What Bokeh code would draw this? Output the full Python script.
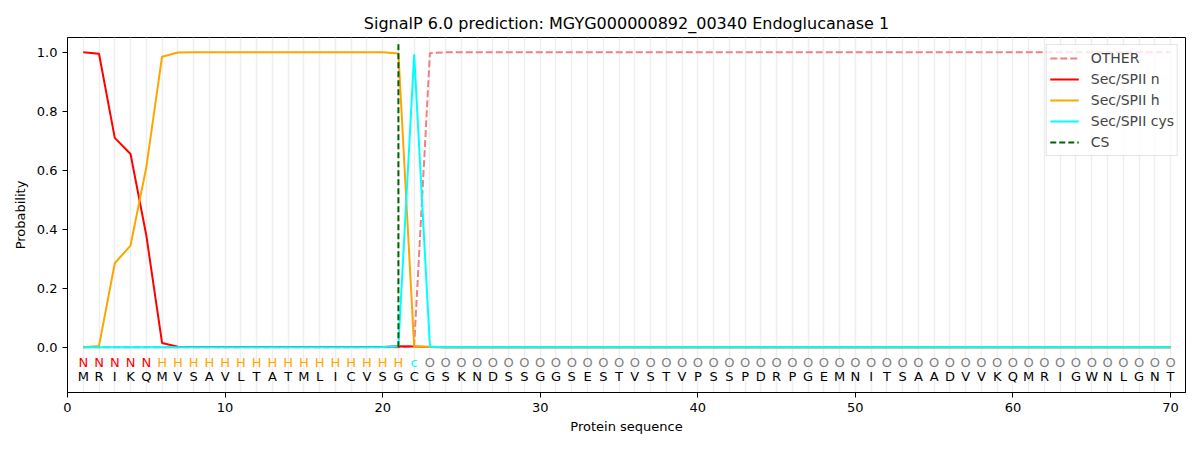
from bokeh.plotting import figure
from bokeh.models import ColumnDataSource, FixedTicker, Legend, LegendItem, Range1d, PrintfTickFormatter
from bokeh.embed import file_html
from bokeh.resources import INLINE
from bokeh.core.properties import value

positions = [1, 2, 3, 4, 5, 6, 7, 8, 9, 10, 11, 12, 13, 14, 15, 16, 17, 18, 19, 20,
             21, 22, 23, 24, 25, 26, 27, 28, 29, 30, 31, 32, 33, 34, 35, 36, 37, 38, 39, 40,
             41, 42, 43, 44, 45, 46, 47, 48, 49, 50, 51, 52, 53, 54, 55, 56, 57, 58, 59, 60,
             61, 62, 63, 64, 65, 66, 67, 68, 69, 70]

sequence = list("MRIKQMVSAVLTATMLICVSGCGSKNDSSGGSESTVSTVPSSPDRPGEMNITSAADVVKQMRIGWNLGNT")
region_labels = list("NNNNNHHHHHHHHHHHHHHHHcOOOOOOOOOOOOOOOOOOOOOOOOOOOOOOOOOOOOOOOOOOOOOOOO")

other = [0.0, 0.0, 0.0, 0.0, 0.0, 0.0, 0.0, 0.0, 0.0, 0.0,
         0.0, 0.0, 0.0, 0.0, 0.0, 0.0, 0.0, 0.0, 0.0, 0.0,
         0.0, 0.005, 0.997, 1.0, 1.0, 1.0, 1.0, 1.0, 1.0, 1.0,
         1.0, 1.0, 1.0, 1.0, 1.0, 1.0, 1.0, 1.0, 1.0, 1.0,
         1.0, 1.0, 1.0, 1.0, 1.0, 1.0, 1.0, 1.0, 1.0, 1.0,
         1.0, 1.0, 1.0, 1.0, 1.0, 1.0, 1.0, 1.0, 1.0, 1.0,
         1.0, 1.0, 1.0, 1.0, 1.0, 1.0, 1.0, 1.0, 1.0, 1.0]

sec_n = [1.0, 0.995, 0.71, 0.655, 0.38, 0.015, 0.002, 0.001, 0.001, 0.001,
         0.001, 0.001, 0.001, 0.001, 0.001, 0.001, 0.001, 0.001, 0.001, 0.001,
         0.004, 0.003, 0.001, 0.0, 0.0, 0.0, 0.0, 0.0, 0.0, 0.0,
         0.0, 0.0, 0.0, 0.0, 0.0, 0.0, 0.0, 0.0, 0.0, 0.0,
         0.0, 0.0, 0.0, 0.0, 0.0, 0.0, 0.0, 0.0, 0.0, 0.0,
         0.0, 0.0, 0.0, 0.0, 0.0, 0.0, 0.0, 0.0, 0.0, 0.0,
         0.0, 0.0, 0.0, 0.0, 0.0, 0.0, 0.0, 0.0, 0.0, 0.0]

sec_h = [0.0, 0.005, 0.285, 0.345, 0.61, 0.985, 0.999, 1.0, 1.0, 1.0,
         1.0, 1.0, 1.0, 1.0, 1.0, 1.0, 1.0, 1.0, 1.0, 1.0,
         0.996, 0.003, 0.001, 0.0, 0.0, 0.0, 0.0, 0.0, 0.0, 0.0,
         0.0, 0.0, 0.0, 0.0, 0.0, 0.0, 0.0, 0.0, 0.0, 0.0,
         0.0, 0.0, 0.0, 0.0, 0.0, 0.0, 0.0, 0.0, 0.0, 0.0,
         0.0, 0.0, 0.0, 0.0, 0.0, 0.0, 0.0, 0.0, 0.0, 0.0,
         0.0, 0.0, 0.0, 0.0, 0.0, 0.0, 0.0, 0.0, 0.0, 0.0]

sec_cys = [0.0, 0.0, 0.0, 0.0, 0.0, 0.0, 0.0, 0.0, 0.0, 0.0,
           0.0, 0.0, 0.0, 0.0, 0.0, 0.0, 0.0, 0.0, 0.0, 0.001,
           0.004, 0.993, 0.003, 0.0, 0.0, 0.0, 0.0, 0.0, 0.0, 0.0,
           0.0, 0.0, 0.0, 0.0, 0.0, 0.0, 0.0, 0.0, 0.0, 0.0,
           0.0, 0.0, 0.0, 0.0, 0.0, 0.0, 0.0, 0.0, 0.0, 0.0,
           0.0, 0.0, 0.0, 0.0, 0.0, 0.0, 0.0, 0.0, 0.0, 0.0,
           0.0, 0.0, 0.0, 0.0, 0.0, 0.0, 0.0, 0.0, 0.0, 0.0]

cs_position = 21
cs_top = 1.035

x_ticks = [0, 10, 20, 30, 40, 50, 60, 70]
y_ticks = [0.0, 0.2, 0.4, 0.6, 0.8, 1.0]

label_colors = {"N": "red", "H": "orange", "c": "cyan", "O": "gray"}

FONT = "DejaVu Sans"

p = figure(width=1192, height=442, output_backend="svg", toolbar_location=None,
           x_range=Range1d(0, 70.95), y_range=Range1d(-0.153, 1.05),
           min_border_left=67, min_border_right=7, min_border_top=37, min_border_bottom=50)

p.title.text = "SignalP 6.0 prediction: MGYG000000892_00340 Endoglucanase 1"
p.title.align = "center"
p.title.text_font = FONT
p.title.text_font_size = "16px"
p.title.text_font_style = "normal"
p.title.text_color = "black"

p.outline_line_color = "black"
p.outline_line_width = 1

p.xaxis.axis_label = "Protein sequence"
p.yaxis.axis_label = "Probability"
for ax in (p.xaxis[0], p.yaxis[0]):
    ax.axis_label_text_font = FONT
    ax.axis_label_text_font_size = "13px"
    ax.axis_label_text_font_style = "normal"
    ax.axis_label_text_color = "black"
    ax.major_label_text_font = FONT
    ax.major_label_text_font_size = "13px"
    ax.major_label_text_color = "black"
    ax.minor_tick_line_color = None
    ax.major_tick_out = 5
    ax.major_tick_in = 0
    ax.axis_line_color = "black"
    ax.major_tick_line_color = "black"
p.xaxis.ticker = FixedTicker(ticks=x_ticks)
p.yaxis.ticker = FixedTicker(ticks=y_ticks)
p.yaxis.formatter = PrintfTickFormatter(format="%.1f")
p.xaxis.axis_label_standoff = 4
p.yaxis.axis_label_standoff = 6

p.xgrid.ticker = FixedTicker(ticks=positions)
p.xgrid.grid_line_color = "#eeeeee"
p.xgrid.grid_line_width = 1.5
p.ygrid.grid_line_color = None

src = ColumnDataSource(dict(x=positions, other=other, n=sec_n, h=sec_h, cys=sec_cys,
                            seq=sequence, lab=region_labels,
                            labc=[label_colors[c] for c in region_labels]))

r_other = p.line("x", "other", source=src, line_color="#f08080", line_width=2, line_dash="7 3")
r_n = p.line("x", "n", source=src, line_color="red", line_width=2)
r_h = p.line("x", "h", source=src, line_color="orange", line_width=2)
r_c = p.line("x", "cys", source=src, line_color="cyan", line_width=2)
r_cs = p.segment(x0=[cs_position], y0=[0], x1=[cs_position], y1=[cs_top],
                 line_color="darkgreen", line_width=2, line_dash="6 3")

p.text("x", -0.051, text="lab", source=src, text_color="labc", text_align="center",
       text_baseline="middle", text_font=value(FONT), text_font_size="13px")
p.text("x", -0.1, text="seq", source=src, text_color="black", text_align="center",
       text_baseline="middle", text_font=value(FONT), text_font_size="13px")

legend = Legend(items=[
    LegendItem(label="OTHER", renderers=[r_other]),
    LegendItem(label="Sec/SPII n", renderers=[r_n]),
    LegendItem(label="Sec/SPII h", renderers=[r_h]),
    LegendItem(label="Sec/SPII cys", renderers=[r_c]),
    LegendItem(label="CS", renderers=[r_cs]),
], location="top_right")
legend.margin = 7
legend.padding = 3
legend.spacing = 1
legend.label_height = 20
legend.glyph_height = 20
legend.glyph_width = 29
legend.label_standoff = 12
legend.label_text_font = FONT
legend.label_text_font_size = "14px"
legend.label_text_baseline = "middle"
legend.border_line_color = "#cccccc"
legend.background_fill_alpha = 0.8
p.add_layout(legend)

open("out.html", "w").write(file_html(p, INLINE))
